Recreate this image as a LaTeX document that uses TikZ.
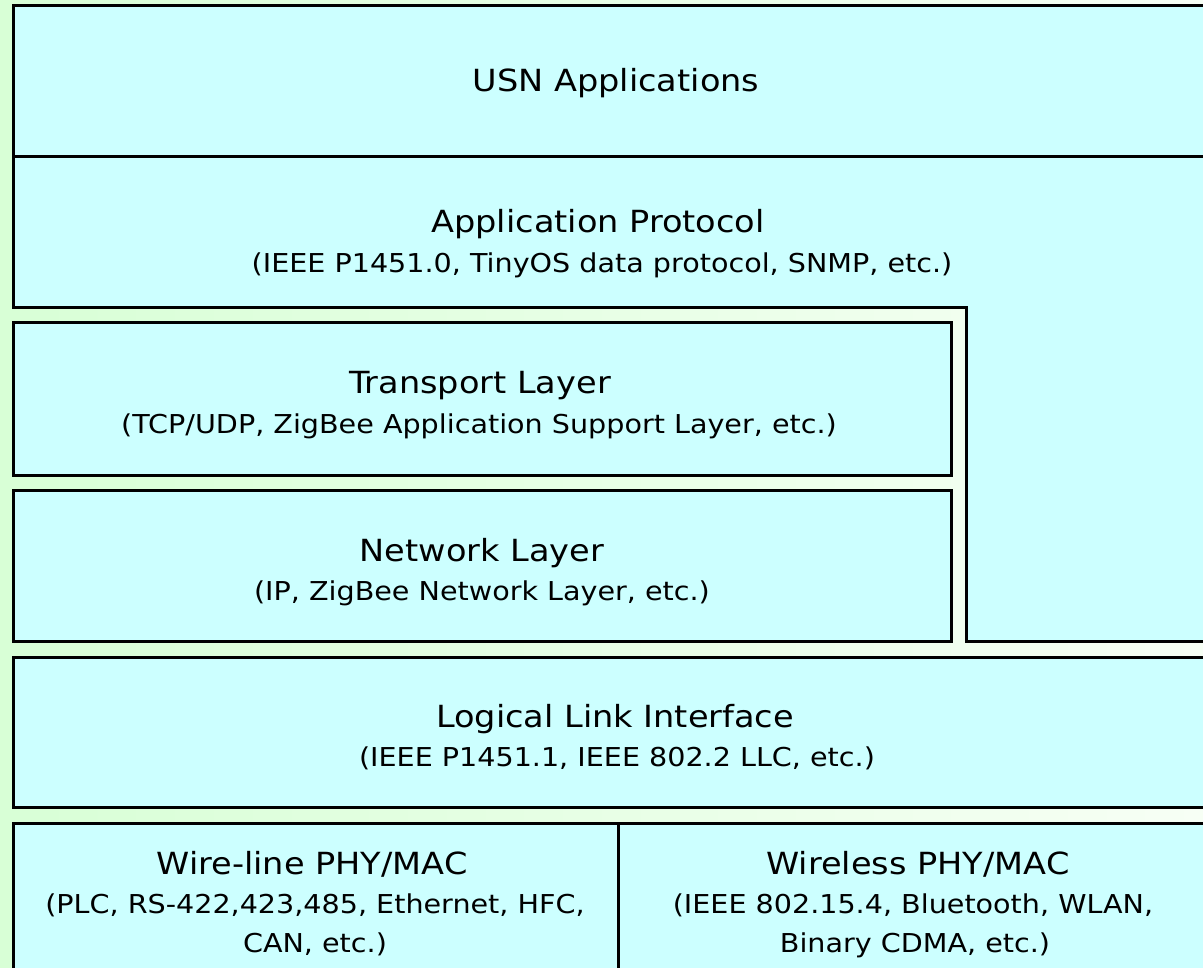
\documentclass[tikz,border=0pt]{standalone}
\usepackage{fontspec}
\setmainfont{DejaVu Sans}[FakeStretch=1.1]
\definecolor{boxcyan}{RGB}{204,255,255}
\definecolor{bgleft}{RGB}{216,255,214}
\definecolor{bgright}{RGB}{247,255,245}
\begin{document}
\begin{tikzpicture}[x=1pt,y=-1pt,
  layer/.style={draw=black, line width=3pt, fill=boxcyan},
  ttl/.style={font=\fontsize{30.5}{33}\selectfont, inner sep=0pt, anchor=base},
  sub/.style={font=\fontsize{26}{29}\selectfont, inner sep=0pt, anchor=base}]
  % page and background
  \useasboundingbox (0,0) rectangle (1203,968);
  \clip (0,0) rectangle (1203,968);
  \shade[left color=bgleft, right color=bgright] (0,0) rectangle (1203,968);

  % upper L-shaped block: applications + application protocol
  \draw[layer] (13,6) -- (1220,6) -- (1220,641) -- (966,641) -- (966,308)
    -- (13,308) -- cycle;
  \draw[line width=3pt] (13,157) -- (1220,157);

  % transport and network layers
  \draw[layer] (13,323) rectangle (951,475);
  \draw[layer] (13,490) rectangle (951,641);

  % logical link interface
  \draw[layer] (13,657) rectangle (1220,807);

  % physical / MAC layers
  \draw[layer] (13,823) rectangle (1220,990);
  \draw[line width=3pt] (618,823) -- (618,990);

  % labels
  \node[ttl] (usn) at (616,92) {USN Applications};
  \node[ttl] (ap) at (598,233) {Application Protocol};
  \node[sub] (aps) at (602,273) {(IEEE P1451.0, TinyOS data protocol, SNMP, etc.)};
  \node[ttl] (tl) at (480,394) {Transport Layer};
  \node[sub] (tls) at (479,433) {(TCP/UDP, ZigBee Application Support Layer, etc.)};
  \node[ttl] (nl) at (482,561) {Network Layer};
  \node[sub] (nls) at (482,600) {(IP, ZigBee Network Layer, etc.)};
  \node[ttl] (ll) at (615,727) {Logical Link Interface};
  \node[sub] (lls) at (617,766) {(IEEE P1451.1, IEEE 802.2 LLC, etc.)};
  \node[ttl] (wl) at (312,874) {Wire-line PHY/MAC};
  \node[sub] (wls) at (315,913) {(PLC, RS-422,423,485, Ethernet, HFC,};
  \node[sub] (wlt) at (315,952) {CAN, etc.)};
  \node[ttl] (ws) at (918,874) {Wireless PHY/MAC};
  \node[sub] (wss) at (913,913) {(IEEE 802.15.4, Bluetooth, WLAN,};
  \node[sub] (wst) at (915,952) {Binary CDMA, etc.)};
\end{tikzpicture}
\end{document}
